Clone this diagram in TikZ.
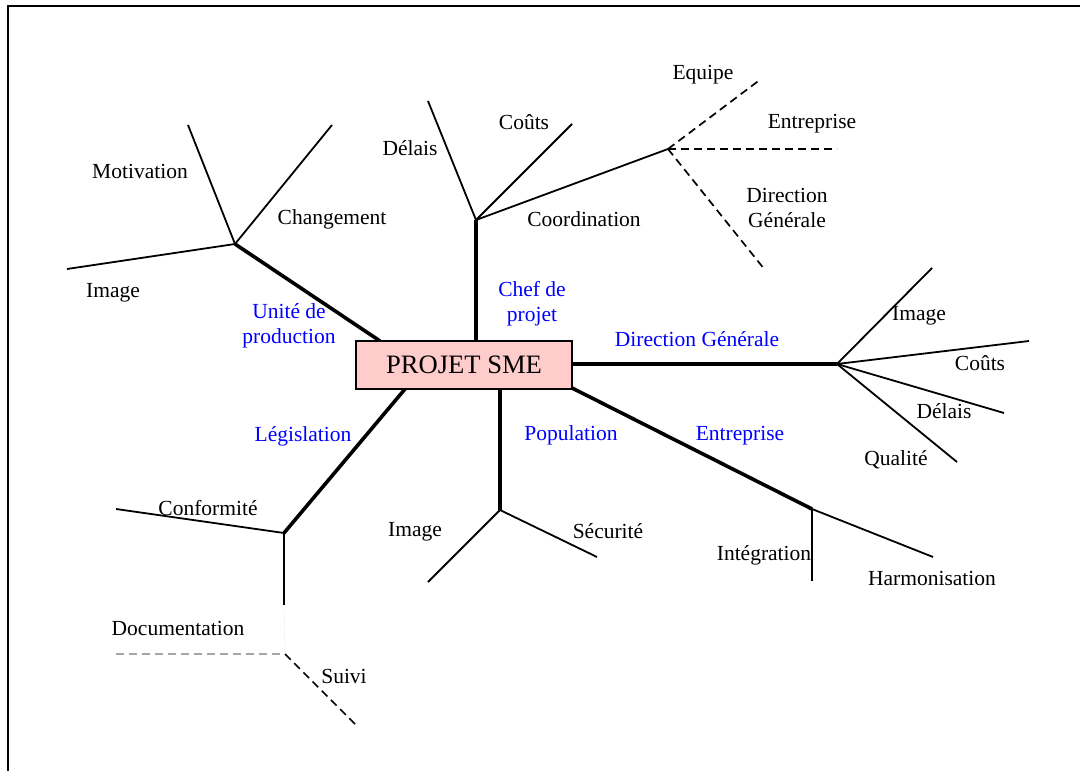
\documentclass[tikz,border=0pt]{standalone}
\usepackage{fontspec}
\setmainfont{Liberation Serif}
\begin{document}
\begin{tikzpicture}[x=1pt,y=-1pt,
  lbl/.style={inner sep=0pt,font=\fontsize{21.5}{25}\selectfont,align=center},
  cat/.style={lbl,text=blue},
  thick branch/.style={line width=3.6pt},
  thin branch/.style={line width=1.8pt},
  dash branch/.style={line width=1.7pt,dash pattern=on 8pt off 5pt},
  gray dash/.style={line width=1.3pt,draw=gray!70,dash pattern=on 8pt off 5pt},
  core/.style={draw=black,line width=1.2pt,fill={rgb,255:red,255;green,204;blue,204},
    minimum width=216pt,minimum height=48pt,inner sep=0pt,
    font=\fontsize{26.6}{30}\selectfont}]
\useasboundingbox (0,0) rectangle (1080,771);
\draw[line width=2pt] (8,771) -- (8,6) -- (1080,6);

% coordinates on box edge
\coordinate (u0) at (380,341);
\coordinate (c0) at (476,341);
\coordinate (d0) at (572,364);
\coordinate (e0) at (572,388);
\coordinate (p0) at (500,389);
\coordinate (l0) at (405,389);

% knots
\coordinate (ku) at (235,244);
\coordinate (kc) at (476,220);
\coordinate (kco) at (668,149);
\coordinate (kd) at (837,364);
\coordinate (ke) at (812,509);
\coordinate (kp) at (500,510);
\coordinate (kl) at (284,533);
\coordinate (kl2) at (284,605);
\coordinate (kdoc) at (285,654);

% end points
\coordinate (uMot) at (188,125);
\coordinate (uCha) at (332,125);
\coordinate (uImg) at (67,269);
\coordinate (cDel) at (428,101);
\coordinate (cCou) at (572,124);
\coordinate (eEqu) at (761,79);
\coordinate (eEnt) at (837,149);
\coordinate (eDir) at (765,270);
\coordinate (dImg) at (932,268);
\coordinate (dCou) at (1029,341);
\coordinate (dDel) at (1004,413);
\coordinate (dQua) at (957,462);
\coordinate (eHar) at (933,557);
\coordinate (eInt) at (812,581);
\coordinate (pImg) at (428,582);
\coordinate (pSec) at (597,557);
\coordinate (lCon) at (116,509);
\coordinate (lDoc) at (116,654);
\coordinate (lSui) at (357,726);

% main branches
\draw[thick branch] (u0) -- (ku);
\draw[thick branch] (c0) -- (kc);
\draw[thick branch] (d0) -- (kd);
\draw[thick branch] (e0) -- (ke);
\draw[thick branch] (p0) -- (kp);
\draw[thick branch] (l0) -- (kl);
\draw[line width=2.6pt] (kl) -- (kl2);
\draw[line width=0.4pt,draw=gray!15] (kl2) -- (kdoc);

% central node (drawn over branch ends)
\node[core] (sme) at (464,365) {PROJET SME};

% sub branches
\draw[thin branch] (ku) -- (uMot);
\draw[thin branch] (ku) -- (uCha);
\draw[thin branch] (ku) -- (uImg);
\draw[thin branch] (kc) -- (cDel);
\draw[thin branch] (kc) -- (cCou);
\draw[thin branch] (kc) -- (kco);
\draw[dash branch] (kco) -- (eEqu);
\draw[dash branch] (kco) -- (eEnt);
\draw[dash branch] (kco) -- (eDir);
\draw[thin branch] (kd) -- (dImg);
\draw[thin branch] (kd) -- (dCou);
\draw[thin branch] (kd) -- (dDel);
\draw[thin branch] (kd) -- (dQua);
\draw[thin branch] (ke) -- (eHar);
\draw[thin branch] (ke) -- (eInt);
\draw[thin branch] (kp) -- (pImg);
\draw[thin branch] (kp) -- (pSec);
\draw[thin branch] (kl) -- (lCon);
\draw[gray dash] (lDoc) -- (kdoc);
\draw[dash branch] (kdoc) -- (lSui);

% category labels
\node[cat] (tUnite) at (289,326) {Unité de\\production};
\node[cat] (tChef) at (532,304) {Chef de\\projet};
\node[cat] (tDir) at (697,339) {Direction Générale};
\node[cat] (tEnt) at (740,436) {Entreprise};
\node[cat] (tPop) at (571,435) {Population};
\node[cat] (tLeg) at (303,436) {Législation};

% leaf labels
\node[lbl] (tMot) at (140,171) {Motivation};
\node[lbl] (tCha) at (332,219) {Changement};
\node[lbl] (tImg1) at (113,293) {Image};
\node[lbl] (tDel1) at (410,148) {Délais};
\node[lbl] (tCou1) at (524,122) {Coûts};
\node[lbl] (tCoo) at (584,219) {Coordination};
\node[lbl] (tEqu) at (703,75) {Equipe};
\node[lbl] (tEnt2) at (812,124) {Entreprise};
\node[lbl] (tDir2) at (787,208) {Direction\\Générale};
\node[lbl] (tImg2) at (919,316) {Image};
\node[lbl] (tCou2) at (980,363) {Coûts};
\node[lbl] (tDel2) at (944,411) {Délais};
\node[lbl] (tQua) at (896,460) {Qualité};
\node[lbl] (tImg3) at (415,532) {Image};
\node[lbl] (tSec) at (608,531) {Sécurité};
\node[lbl] (tInt) at (764,555) {Intégration};
\node[lbl] (tHar) at (932,578) {Harmonisation};
\node[lbl] (tCon) at (208,508) {Conformité};
\node[lbl] (tDoc) at (178,628) {Documentation};
\node[lbl] (tSui) at (344,676) {Suivi};
\end{tikzpicture}
\end{document}
